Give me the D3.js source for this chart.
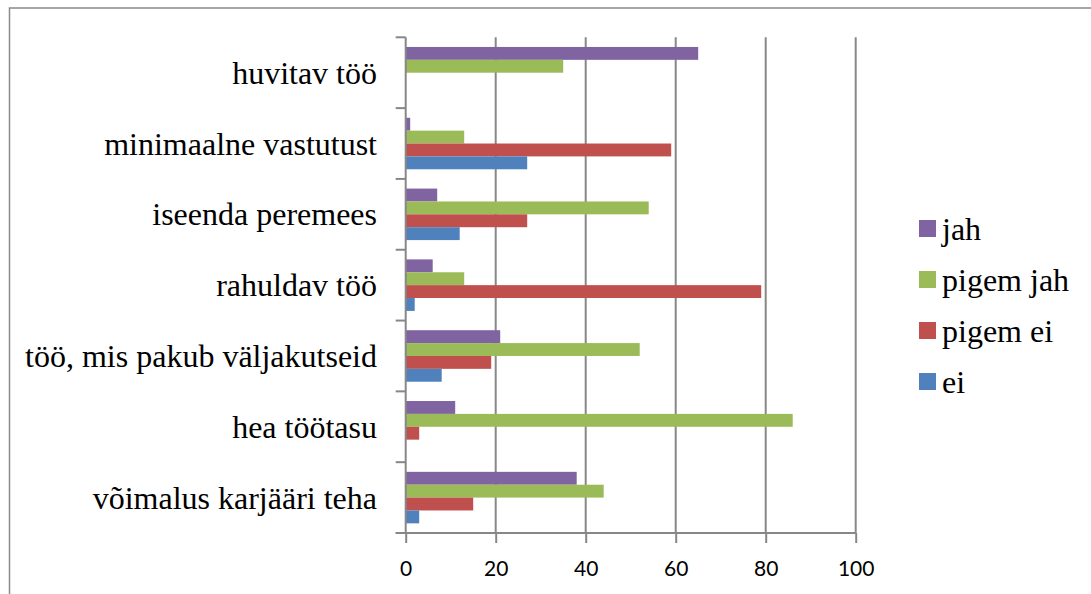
<!DOCTYPE html>
<html>
<head>
<meta charset="utf-8">
<script src="https://cdn.jsdelivr.net/npm/d3@7"></script>
<style>
  body { margin: 0; background: #fff; }
</style>
</head>
<body>
<div class="container"></div>
<script>
// categories top to bottom, as in the picture
const categories = ["huvitav töö", "minimaalne vastutust", "iseenda peremees", "rahuldav töö",
  "töö, mis pakub väljakutseid", "hea töötasu", "võimalus karjääri teha"];

// series, drawn top to bottom inside each category
const seriesNames = ["jah", "pigem jah", "pigem ei", "ei"];
const jah = [65, 1, 7, 6, 21, 11, 38];
const pigemJah = [35, 13, 54, 13, 52, 86, 44];
const pigemEi = [0, 59, 27, 79, 19, 3, 15];
const ei = [0, 27, 12, 2, 8, 0, 3];
const seriesValues = [jah, pigemJah, pigemEi, ei];
const seriesColors = ["#8064A2", "#9BBB59", "#C0504D", "#4F81BD"];

const xTicks = [0, 20, 40, 60, 80, 100];

const width = 1091;
const height = 594;
const serif = '"Liberation Serif"';

const svg = d3.select(".container")
  .append("svg")
  .attr("width", width)
  .attr("height", height);

// outer chart border (runs off the right and bottom of the picture)
svg.append("rect")
  .attr("x", 9.5).attr("y", 8)
  .attr("width", 1200).attr("height", 700)
  .attr("fill", "none")
  .attr("stroke", "#8a8a8a")
  .attr("stroke-width", 1.5);

const x = d3.scaleLinear().domain([0, 100]).range([405.7, 855.7]);
const y = d3.scaleBand().domain(categories).range([37.3, 533]);
const inner = d3.scaleBand().domain(seriesNames)
  .range([0, y.bandwidth()])
  .paddingInner(0).paddingOuter(0.75);

// vertical gridlines
svg.append("g")
  .selectAll("line")
  .data(xTicks.slice(1))
  .join("line")
  .attr("x1", d => x(d)).attr("x2", d => x(d))
  .attr("y1", y.range()[0]).attr("y2", y.range()[1])
  .attr("stroke", "#878787")
  .attr("stroke-width", 2);

// bars
const rows = [];
categories.forEach((c, i) => {
  seriesNames.forEach((s, j) => {
    rows.push({ cat: c, series: s, value: seriesValues[j][i], color: seriesColors[j] });
  });
});

svg.append("g")
  .selectAll("rect")
  .data(rows.filter(d => d.value > 0))
  .join("rect")
  .attr("x", x(0))
  .attr("y", d => y(d.cat) + inner(d.series))
  .attr("width", d => x(d.value) - x(0))
  .attr("height", inner.bandwidth())
  .attr("fill", d => d.color);

// x axis
const xAxis = svg.append("g")
  .attr("transform", `translate(0,${y.range()[1]})`)
  .call(d3.axisBottom(x).tickValues(xTicks).tickSize(10).tickSizeOuter(0).tickPadding(18));
xAxis.select(".domain").attr("stroke", "#878787").attr("stroke-width", 2)
  .attr("d", `M${x(0) - 10},0H${x(100)}`);
xAxis.selectAll(".tick line").attr("stroke", "#878787").attr("stroke-width", 2);
xAxis.selectAll(".tick text")
  .attr("fill", "#000")
  .style("font-family", '"Lato"')
  .style("font-size", "21px");

// y axis: line with ticks at the category boundaries
const yAxis = svg.append("g");
yAxis.append("line")
  .attr("x1", x(0)).attr("x2", x(0))
  .attr("y1", y.range()[0]).attr("y2", y.range()[1])
  .attr("stroke", "#878787").attr("stroke-width", 2);
yAxis.selectAll("line.tick")
  .data(categories.map(c => y(c)).concat([y.range()[1]]))
  .join("line")
  .attr("class", "tick")
  .attr("x1", x(0) - 10).attr("x2", x(0))
  .attr("y1", d => d).attr("y2", d => d)
  .attr("stroke", "#878787").attr("stroke-width", 2);

// category labels
svg.append("g")
  .selectAll("text")
  .data(categories)
  .join("text")
  .attr("x", 377)
  .attr("y", d => y(d) + y.bandwidth() / 2 + 11)
  .attr("text-anchor", "end")
  .style("font-family", serif)
  .style("font-size", "32px")
  .text(d => d);

// legend
const legend = svg.append("g")
  .selectAll("g")
  .data(seriesNames)
  .join("g")
  .attr("transform", (d, i) => `translate(919,${220 + i * 51})`);

legend.append("rect")
  .attr("width", 17).attr("height", 17)
  .attr("fill", (d, i) => seriesColors[i]);

legend.append("text")
  .attr("x", 23).attr("y", 19.5)
  .style("font-family", serif)
  .style("font-size", "32px")
  .text(d => d);
</script>
</body>
</html>
